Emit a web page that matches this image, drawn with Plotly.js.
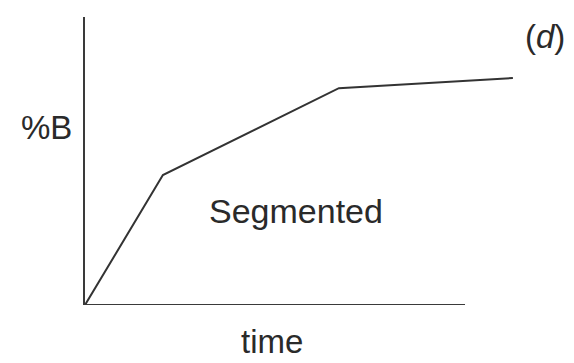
<!DOCTYPE html>
<html>
<head>
<meta charset="utf-8">
<script src="https://cdn.plot.ly/plotly-3.0.1.min.js"></script>
<style>html,body{margin:0;padding:0;background:#fff;}#chart{width:574px;height:363px;}</style>
</head>
<body>
<div id="chart"></div>
<script>
// Gradient profile (time in arbitrary units, %B in arbitrary units)
const timeValues = [0, 20.5, 66.8, 112.6];
const percentB = [0, 45.1, 75.3, 78.8];
const axisEndTime = 100;
const yLabel = "%B";
const xLabel = "time";
const curveLabel = "Segmented";
const panelLabel = "(<i>d</i>)";

const font = {family: "Liberation Sans, Arial, sans-serif", size: 33, color: "#2a2a2a"};
const bigFont = Object.assign({}, font, {size: 34});

const traces = [{
  x: timeValues, y: percentB, type: "scatter", mode: "lines",
  line: {color: "#333333", width: 2}, hoverinfo: "skip", cliponaxis: false
}];

const layout = {
  width: 574, height: 363,
  margin: {l: 85, r: 54, t: 17, b: 58},
  paper_bgcolor: "#ffffff", plot_bgcolor: "#ffffff",
  showlegend: false,
  xaxis: {range: [0, 114.47], showline: false, showgrid: false, zeroline: false, showticklabels: false, ticks: ""},
  yaxis: {range: [0, 100], showline: true, linecolor: "#3a3a3a", linewidth: 2, showgrid: false, zeroline: false, showticklabels: false, ticks: ""},
  shapes: [{type: "line", xref: "x", yref: "y", x0: 0, x1: axisEndTime, y0: 0, y1: 0, line: {color: "#3a3a3a", width: 2}}],
  annotations: [
    {text: yLabel, xref: "paper", yref: "paper", x: -0.0874, y: 0.615, xanchor: "center", yanchor: "middle", showarrow: false, font: font},
    {text: curveLabel, xref: "paper", yref: "paper", x: 0.485, y: 0.326, xanchor: "center", yanchor: "middle", showarrow: false, font: bigFont},
    {text: xLabel, xref: "paper", yref: "paper", x: 0.430, y: -0.125, xanchor: "center", yanchor: "middle", showarrow: false, font: font},
    {text: panelLabel, xref: "paper", yref: "paper", x: 1.057, y: 0.934, xanchor: "center", yanchor: "middle", showarrow: false, font: font}
  ]
};

Plotly.newPlot("chart", traces, layout, {staticPlot: true, displayModeBar: false});
</script>
</body>
</html>
